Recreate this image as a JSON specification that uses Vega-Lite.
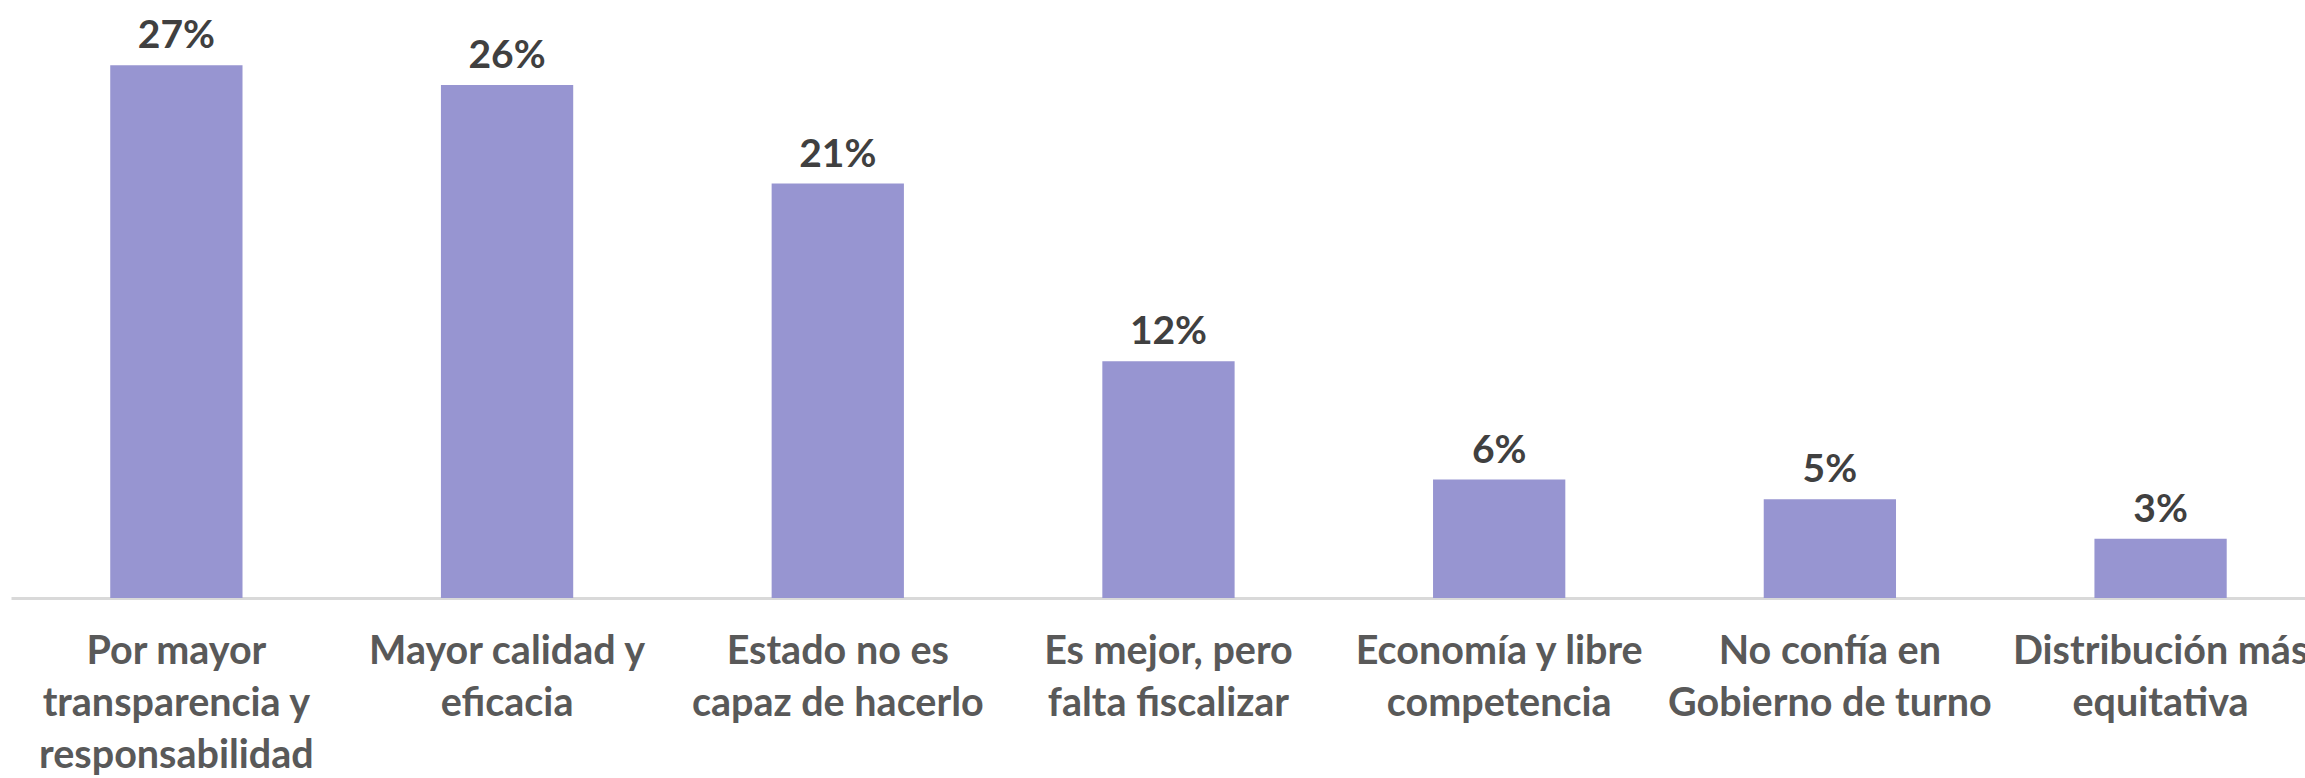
{
  "$schema": "https://vega.github.io/schema/vega-lite/v6.json",
  "width": 2294,
  "height": 592,
  "autosize": {"type": "none"},
  "padding": {"left": 11, "top": 6, "right": 0, "bottom": 180},
  "background": "white",
  "data": {
    "values": [
      {"motivo": "Por mayor\ntransparencia y\nresponsabilidad", "pct": 0.27},
      {"motivo": "Mayor calidad y\neficacia", "pct": 0.26},
      {"motivo": "Estado no es\ncapaz de hacerlo", "pct": 0.21},
      {"motivo": "Es mejor, pero\nfalta fiscalizar", "pct": 0.12},
      {"motivo": "Economía y libre\ncompetencia", "pct": 0.06},
      {"motivo": "No confía en\nGobierno de turno", "pct": 0.05},
      {"motivo": "Distribución más\nequitativa", "pct": 0.03}
    ]
  },
  "encoding": {
    "x": {
      "field": "motivo",
      "type": "nominal",
      "sort": null,
      "scale": {"paddingInner": 0.6, "paddingOuter": 0.2684, "align": 0.559},
      "axis": {
        "title": null,
        "labelAngle": 0,
        "labelExpr": "split(datum.label, '\\n')",
        "labelFont": "Lato",
        "labelFontWeight": "bold",
        "labelFontSize": 39.5,
        "labelColor": "#595959",
        "labelLineHeight": 52,
        "labelPadding": 34,
        "labelBaseline": "top",
        "labelLimit": 0,
        "ticks": false,
        "domainColor": "#D9D9D9",
        "domainWidth": 3
      }
    },
    "y": {
      "field": "pct",
      "type": "quantitative",
      "scale": {"domain": [0, 0.3]},
      "axis": null
    }
  },
  "layer": [
    {"mark": {"type": "bar", "color": "#9795D1"}},
    {
      "mark": {
        "type": "text",
        "baseline": "alphabetic",
        "dy": -17,
        "font": "Lato",
        "fontWeight": "bold",
        "fontSize": 39,
        "color": "#404040"
      },
      "encoding": {"text": {"field": "pct", "type": "quantitative", "format": ".0%"}}
    }
  ],
  "config": {"view": {"stroke": null}}
}
